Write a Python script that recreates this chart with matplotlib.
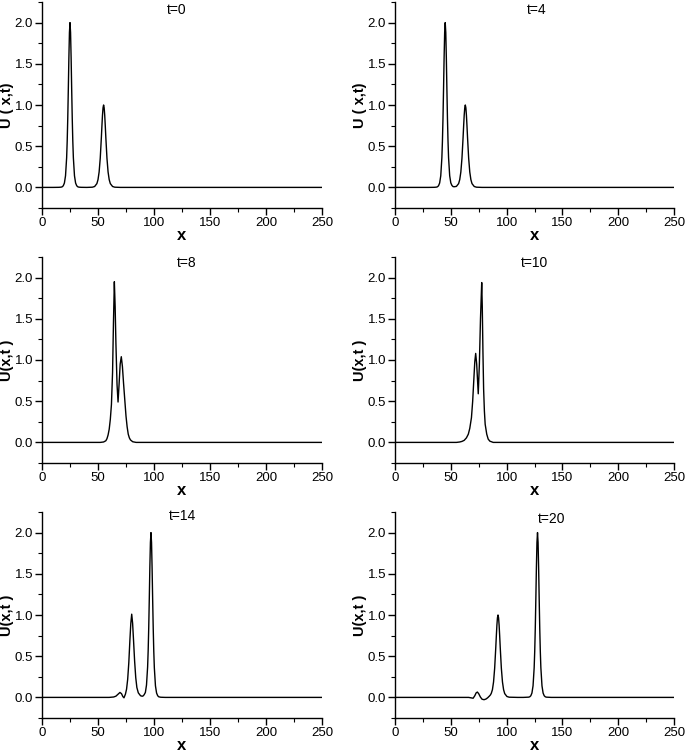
import matplotlib
matplotlib.use("Agg")
import matplotlib.pyplot as plt
from matplotlib.ticker import MultipleLocator, FormatStrFormatter

plt.rcParams['font.family'] = ['Liberation Sans', 'DejaVu Sans']

# ---------------- data ----------------
time_labels = ["t=0", "t=4", "t=8", "t=10", "t=14", "t=20"]

x_t0 = [0, 10, 15, 17, 18, 19, 20, 21, 22, 22.5, 23, 23.5, 24, 24.5, 25, 25.5, 26, 26.5,
        27, 27.5, 28, 29, 30, 31, 32, 33, 35, 40, 45, 47, 49, 50, 51, 52, 53, 53.5, 54,
        54.5, 55, 55.5, 56, 56.5, 57, 58, 59, 60, 61, 63, 65, 70, 250]
u_t0 = [0, 0, 0.001, 0.003, 0.007, 0.020, 0.053, 0.141, 0.361, 0.561, 0.84, 1.193, 1.573,
        1.88, 2.0, 1.88, 1.573, 1.193, 0.84, 0.561, 0.361, 0.141, 0.053, 0.020, 0.007,
        0.003, 0.001, 0, 0.0025, 0.011, 0.046, 0.094, 0.187, 0.354, 0.605, 0.746, 0.875,
        0.966, 1.0, 0.966, 0.875, 0.746, 0.605, 0.354, 0.187, 0.094, 0.046, 0.011,
        0.0025, 0, 0]

x_t4 = [0, 30, 35, 37, 38, 39, 40, 41, 42, 42.5, 43, 43.5, 44, 44.5, 45, 45.5, 46, 46.5,
        47, 47.5, 48, 49, 50, 51, 52, 53, 55, 57, 58, 59, 60, 61, 61.5, 62, 62.5, 63,
        63.5, 64, 64.5, 65, 66, 67, 68, 69, 71, 73, 78, 250]
u_t4 = [0, 0, 0.001, 0.003, 0.007, 0.020, 0.053, 0.141, 0.361, 0.561, 0.84, 1.193, 1.573,
        1.88, 2.0, 1.88, 1.573, 1.193, 0.84, 0.561, 0.361, 0.142, 0.055, 0.024, 0.010,
        0.008, 0.012, 0.046, 0.094, 0.187, 0.354, 0.605, 0.746, 0.875, 0.966, 1.0, 0.966,
        0.875, 0.746, 0.605, 0.354, 0.187, 0.094, 0.046, 0.011, 0.0025, 0, 0]

x_t8 = [0, 52, 55, 57, 58, 59, 60, 61, 62, 63, 63.8, 64.6, 65.3, 66, 67, 67.9, 68.8,
        69.8, 70.8, 71.8, 72.8, 74, 75, 76, 77, 78, 79, 81, 84, 250]
u_t8 = [0, 0, 0.005, 0.02, 0.045, 0.09, 0.16, 0.28, 0.46, 0.85, 1.45, 1.95, 1.65, 1.2,
        0.7, 0.49, 0.7, 0.95, 1.04, 0.92, 0.72, 0.5, 0.32, 0.19, 0.1, 0.055, 0.03, 0.008,
        0, 0]

x_t10 = [0, 55, 58, 60, 62, 64, 65.7, 67, 68.5, 69.6, 70.7, 71.5, 72.3, 73.2, 74.6,
         75.6, 76.6, 77.7, 78.2, 78.8, 79.4, 80.1, 80.8, 82.2, 83.5, 85, 88, 250]
u_t10 = [0, 0, 0.005, 0.012, 0.025, 0.055, 0.1, 0.17, 0.3, 0.5, 0.78, 0.98, 1.08, 0.95,
         0.59, 0.95, 1.5, 1.94, 1.65, 1.1, 0.65, 0.38, 0.22, 0.1, 0.04, 0.015, 0, 0]

x_t14 = [0, 60, 64, 66, 68, 69.6, 71, 72.2, 73.2, 74.5, 75.5, 76.5, 77.5, 78.5, 79.3,
         80.1, 80.9, 81.7, 82.7, 83.7, 84.7, 86, 88, 89.5, 90.5, 91.3, 92.3, 93.3, 94.3,
         94.8, 95.3, 95.8, 96.3, 96.8, 97.3, 97.8, 98.3, 98.8, 99.3, 99.8, 100.3, 101.3,
         102.3, 103.3, 104.3, 106, 110, 250]
u_t14 = [0, 0, 0.005, 0.015, 0.04, 0.06, 0.045, 0.01, -0.005, 0.04, 0.1, 0.22, 0.42, 0.7,
         0.9, 1.01, 0.9, 0.7, 0.44, 0.24, 0.12, 0.055, 0.02, 0.014, 0.02, 0.035, 0.06,
         0.15, 0.37, 0.57, 0.85, 1.2, 1.58, 1.88, 2.0, 1.88, 1.57, 1.19, 0.84, 0.56, 0.36,
         0.14, 0.053, 0.02, 0.007, 0.002, 0, 0]

x_t20 = [0, 60, 66, 68, 70, 71.5, 72.7, 73.8, 75, 76.5, 78, 79.8, 81.5, 83, 84.5, 85.5,
         86.3, 87.3, 88.3, 89.3, 90.3, 90.8, 91.3, 91.8, 92.3, 92.8, 93.3, 93.8, 94.3,
         95.3, 96.3, 97.3, 98.3, 100.3, 102.3, 110, 115, 119.7, 120.7, 121.7, 122.7,
         123.7, 124.7, 125.2, 125.7, 126.2, 126.7, 127.2, 127.7, 128.2, 128.7, 129.2,
         129.7, 130.2, 130.7, 131.7, 132.7, 133.7, 134.7, 135.7, 140, 250]
u_t20 = [0, 0, 0, -0.005, -0.01, 0.02, 0.055, 0.065, 0.045, 0.005, -0.022, -0.028, -0.02,
         -0.005, 0.015, 0.03, 0.05, 0.094, 0.187, 0.354, 0.605, 0.746, 0.875, 0.966, 1.0,
         0.966, 0.875, 0.746, 0.605, 0.354, 0.187, 0.094, 0.046, 0.011, 0.0025, 0, 0,
         0.003, 0.007, 0.020, 0.053, 0.141, 0.361, 0.561, 0.84, 1.193, 1.573, 1.88, 2.0,
         1.88, 1.573, 1.193, 0.84, 0.561, 0.361, 0.141, 0.053, 0.020, 0.007, 0.003, 0, 0]

x_ticks = [0, 50, 100, 150, 200, 250]
y_ticks = [0.0, 0.5, 1.0, 1.5, 2.0]
y_labels = ["U ( x,t)", "U ( x,t)", "U(x,t )", "U(x,t )", "U(x,t )", "U(x,t )"]

series = [(x_t0, u_t0), (x_t4, u_t4), (x_t8, u_t8), (x_t10, u_t10),
          (x_t14, u_t14), (x_t20, u_t20)]

# ---------------- layout ----------------
W, H = 685, 753
fig = plt.figure(figsize=(W / 100, H / 100), dpi=100)

col_left = [42, 395]
col_width = [280, 279]
row_top = [2, 257, 512]
ax_h = 206

title_pos = [(120, 2.15), (127, 2.15), (129, 2.18), (125, 2.18), (125, 2.2), (140, 2.16)]

for i, (xs, us) in enumerate(series):
    r, c = divmod(i, 2)
    left = col_left[c] / W
    bottom = 1 - (row_top[r] + ax_h) / H
    ax = fig.add_axes([left, bottom, col_width[c] / W, ax_h / H])
    ax.plot(xs, us, color='black', lw=1.0)
    ax.set_xlim(0, 250)
    ax.set_ylim(-0.25, 2.25)
    ax.set_xticks(x_ticks)
    ax.set_yticks(y_ticks)
    ax.xaxis.set_minor_locator(MultipleLocator(25))
    ax.yaxis.set_minor_locator(MultipleLocator(0.25))
    ax.yaxis.set_major_formatter(FormatStrFormatter('%.1f'))
    for s in ['top', 'right']:
        ax.spines[s].set_visible(False)
    for s in ['left', 'bottom']:
        ax.spines[s].set_linewidth(1.0)
    ax.tick_params(which='major', direction='out', length=5, width=1.0, labelsize=9.5, pad=1.5)
    ax.tick_params(which='minor', direction='out', length=3, width=0.8)
    ax.set_xlabel('x', fontsize=12, fontweight='bold', labelpad=-1)
    ax.set_ylabel(y_labels[i], fontsize=10.5, fontweight='bold')
    ax.yaxis.set_label_coords(-0.1, 0.5)
    tx, ty = title_pos[i]
    ax.text(tx, ty, time_labels[i], ha='center', va='center', fontsize=10)

fig.savefig('out.png', dpi=100)
